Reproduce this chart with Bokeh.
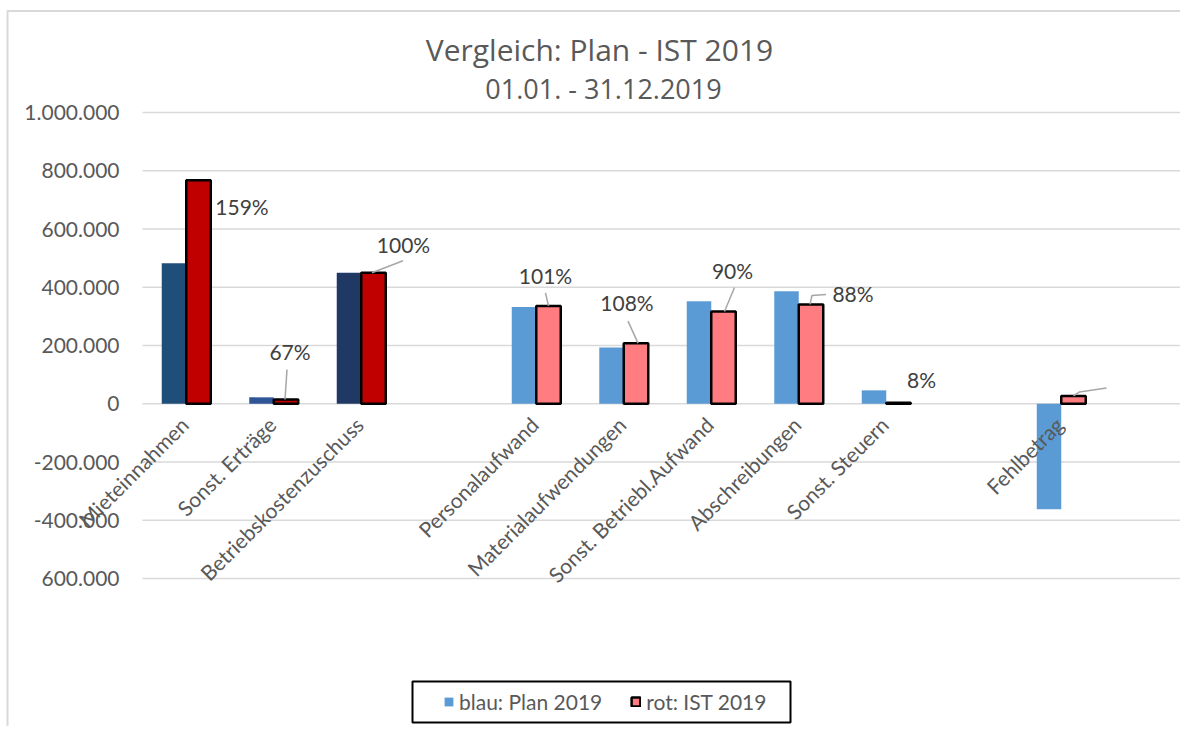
import math
from bokeh.plotting import figure
from bokeh.models import ColumnDataSource, Range1d, Legend, LegendItem
from bokeh.transform import dodge
from bokeh.core.properties import value
from bokeh.embed import file_html
from bokeh.resources import INLINE

# ---------------- data ----------------
categories = ["Mieteinnahmen", "Sonst. Erträge", "Betriebskostenzuschuss", "",
              "Personalaufwand", "Materialaufwendungen", "Sonst. Betriebl.Aufwand",
              "Abschreibungen", "Sonst. Steuern", "", "Fehlbetrag"]
plan_2019 = [482000, 22000, 450000, None, 332000, 193000, 352000, 386000, 46000, None, -362000]
ist_2019 = [767000, 14700, 450000, None, 336000, 208000, 317000, 341000, 3700, None, 27000]
pct_labels = ["159%", "67%", "100%", "", "101%", "108%", "90%", "88%", "8%", "", ""]
plan_colors = ["#1F4E79", "#2F5597", "#203864", None, "#5B9BD5", "#5B9BD5", "#5B9BD5",
               "#5B9BD5", "#5B9BD5", None, "#5B9BD5"]
ist_colors = ["#C00000", "#C00000", "#C00000", None, "#FF7C80", "#FF7C80", "#FF7C80",
              "#FF7C80", "#FF7C80", None, "#FF7C80"]
y_ticks = [-600000, -400000, -200000, 0, 200000, 400000, 600000, 800000, 1000000]
y_tick_labels = ["600.000", "-400.000", "-200.000", "0", "200.000", "400.000",
                 "600.000", "800.000", "1.000.000"]
title_lines = ["Vergleich: Plan - IST 2019", "01.01. - 31.12.2019"]
legend_labels = ["blau: Plan 2019", "rot: IST 2019"]

# ---------------- layout (pixels, page coordinates, y down) ----------------
W, H = 1180, 726
PL = 142                 # left edge of plot area
PT, PB = 112, 578        # y of the top (1.000.000) and bottom (-600.000) gridlines
px_x = 87.5              # pixels per category
y_lo, y_hi = -600000, 1000000
px_y = (PB - PT) / (y_hi - y_lo)
x0 = -0.5 - PL / px_x
x1 = -0.5 + (W - PL) / px_x
v_top = y_hi + PT / px_y
v_bot = y_hi - (H - PT) / px_y
BW = 0.28
FONT = "Lato"
FS = "21px"
GREY = "#595959"

def fx(px):   # page pixel x -> data x
    return x0 + px / px_x

def fy(py):   # page pixel y (down) -> data y
    return v_top - py / px_y

# label offsets relative to the top centre of the IST bar (pixels, y down)
label_dx = [43.5, 4, 30, 0, -3, -9, 9, 42, 23, 0, 0]
label_dy = [26, -48, -28, 0, -30, -41, -41, -11, -23, 0, 0]
leaders_px = {1: [(-1, 0), (1, -30)], 2: [(-1.5, 0), (29.5, -12)],
              4: [(0, 0), (-3, -13)], 5: [(2, 0), (-8, -22)],
              6: [(1, 0), (11, -24)], 7: [(-1, 0), (1, -9), (15, -10)],
              10: [(0, 0), (6, -4), (33, -8)]}

idx = [i for i, c in enumerate(categories) if c]
src = ColumnDataSource(dict(
    x=[float(i) for i in idx],
    cat=[categories[i] for i in idx],
    plan=[plan_2019[i] for i in idx],
    ist=[ist_2019[i] for i in idx],
    pcol=[plan_colors[i] for i in idx],
    icol=[ist_colors[i] for i in idx],
    pct=[pct_labels[i] for i in idx],
    dx=[label_dx[i] for i in idx],
    dy=[label_dy[i] for i in idx],
))

p = figure(width=W, height=H, output_backend="svg", toolbar_location=None,
           x_range=Range1d(x0, x1), y_range=Range1d(v_bot, v_top),
           x_axis_location=None, y_axis_location=None,
           min_border=0)
p.outline_line_color = None
p.background_fill_color = "white"
p.border_fill_color = "white"
p.xgrid.visible = False
p.ygrid.visible = False

# chart border (left + top)
p.line(x=[fx(7), fx(7), fx(W)], y=[fy(H), fy(10.5), fy(10.5)],
       line_color="#d9d9d9", line_width=2)

# gridlines and y tick labels
p.segment(x0=-0.5, x1=x1, y0=y_ticks, y1=y_ticks, line_color="#d9d9d9", line_width=1.5)
p.text(x=fx(119), y=y_ticks, text=y_tick_labels, text_align="right",
       text_baseline="middle", text_font=value(FONT), text_font_size=FS, text_color=GREY)

r_plan = p.vbar(x=dodge("x", -BW / 2), top="plan", width=BW, source=src,
                fill_color="pcol", line_color=None)
r_ist = p.vbar(x=dodge("x", BW / 2), top="ist", width=BW, source=src,
               fill_color="icol", line_color="black", line_width=2.5)

# leader lines
xs, ys = [], []
for i, pts in leaders_px.items():
    bx = i + BW / 2
    by = ist_2019[i]
    xs.append([bx + dx / px_x for dx, dy in pts])
    ys.append([by - dy / px_y for dx, dy in pts])
p.multi_line(xs=xs, ys=ys, line_color="#a6a6a6", line_width=1.5)

# category labels at the zero line
p.text(x="x", y=0, text="cat", source=src, angle=math.pi / 4,
       text_align="right", text_baseline="middle", x_offset=-2, y_offset=17,
       text_font=value(FONT), text_font_size=FS, text_color=GREY)

# percentage labels
p.text(x=dodge("x", BW / 2), y="ist", text="pct", source=src,
       x_offset="dx", y_offset="dy", text_align="center", text_baseline="middle",
       text_font=value(FONT), text_font_size=FS, text_color="#404040")

# title
p.text(x=fx(599), y=fy(49), text=[title_lines[0]], text_align="center",
       text_baseline="middle", text_font=value("Open Sans"), text_font_size="30px",
       text_color=GREY)
p.text(x=fx(603), y=fy(88), text=[title_lines[1]], text_align="center",
       text_baseline="middle", text_font=value("Open Sans"), text_font_size="27px",
       text_color=GREY)

# legend (box drawn separately to get Excel-like inner spacing)
p.quad(left=fx(412), right=fx(790), top=fy(681), bottom=fy(722),
       fill_color="white", line_color="black", line_width=2)
leg_idx = idx.index(4)
legend = Legend(items=[LegendItem(label=legend_labels[0], renderers=[r_plan], index=leg_idx),
                       LegendItem(label=legend_labels[1], renderers=[r_ist], index=leg_idx)],
                location=(433, H - 724), orientation="horizontal",
                border_line_alpha=0, background_fill_alpha=0, padding=10, margin=0,
                spacing=28, label_standoff=5, glyph_width=11, glyph_height=11,
                label_text_font=FONT, label_text_font_size=FS,
                label_text_color=GREY)
p.add_layout(legend, "center")

open("out.html", "w").write(file_html(p, INLINE))
